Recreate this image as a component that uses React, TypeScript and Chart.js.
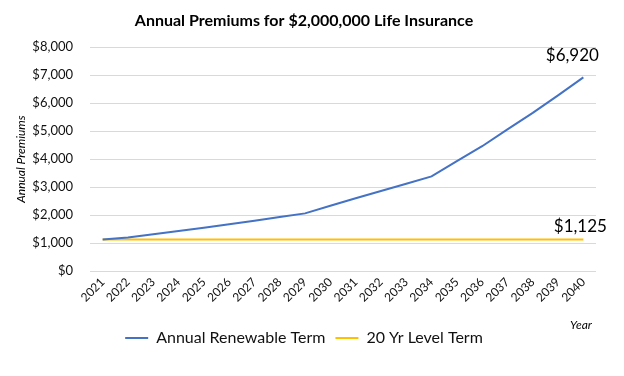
import React, { useEffect, useRef } from "react";
import { Chart, registerables } from "chart.js";

Chart.register(...registerables);

const years = [
  "2021", "2022", "2023", "2024", "2025", "2026", "2027", "2028", "2029", "2030",
  "2031", "2032", "2033", "2034", "2035", "2036", "2037", "2038", "2039", "2040",
];
const annualRenewable = [
  1125, 1200, 1310, 1430, 1550, 1670, 1800, 1930, 2060, 2330,
  2600, 2860, 3120, 3380, 3930, 4460, 5060, 5650, 6280, 6920,
];
const levelTerm = [
  1125, 1125, 1125, 1125, 1125, 1125, 1125, 1125, 1125, 1125,
  1125, 1125, 1125, 1125, 1125, 1125, 1125, 1125, 1125, 1125,
];
const seriesNames = ["Annual Renewable Term", "20 Yr Level Term"];
const endLabels = ["$6,920", "$1,125"];

const FONT = "Lato, 'Open Sans', sans-serif";

const extrasPlugin = {
  id: "extras",
  afterDatasetsDraw(chart: any) {
    const ctx = chart.ctx;
    ctx.save();
    ctx.font = `17px ${FONT}`;
    ctx.fillStyle = "#000";
    ctx.textBaseline = "middle";
    ctx.textAlign = "center";
    const offsets = [
      { dx: -11, dy: -22 },
      { dx: -3, dy: -13 },
    ];
    chart.data.datasets.forEach((ds: any, i: number) => {
      const meta = chart.getDatasetMeta(i);
      const last = meta.data[meta.data.length - 1];
      if (!last) return;
      ctx.fillText(endLabels[i], last.x + offsets[i].dx, last.y + offsets[i].dy);
    });
    const xs = chart.scales.x;
    ctx.font = `italic 12px ${FONT}`;
    ctx.textAlign = "center";
    ctx.fillText("Year", xs.right - 15, 325);
    ctx.restore();
  },
};

export default function App() {
  const canvasRef = useRef<HTMLCanvasElement | null>(null);

  useEffect(() => {
    if (!canvasRef.current) return;
    const chart = new Chart(canvasRef.current, {
      type: "line",
      data: {
        labels: years,
        datasets: [
          {
            label: seriesNames[0],
            data: annualRenewable,
            borderColor: "#4472C4",
            backgroundColor: "#4472C4",
            borderWidth: 2,
            pointRadius: 0,
            tension: 0,
          },
          {
            label: seriesNames[1],
            data: levelTerm,
            borderColor: "#FFC000",
            backgroundColor: "#FFC000",
            borderWidth: 2,
            pointRadius: 0,
            tension: 0,
          },
        ],
      },
      options: {
        animation: false,
        responsive: false,
        maintainAspectRatio: false,
        layout: { padding: { left: 12, right: 28, top: 0, bottom: 20 } },
        plugins: {
          title: {
            display: true,
            text: "Annual Premiums for $2,000,000 Life Insurance",
            color: "#000",
            font: { family: FONT, size: 16, weight: "bold" },
            padding: { top: 11, bottom: 17 },
          },
          legend: {
            position: "bottom",
            labels: {
              usePointStyle: true,
              pointStyle: "line",
              pointStyleWidth: 23,
              color: "#111",
              font: { family: FONT, size: 16 },
              padding: 10,
            },
          },
          tooltip: { enabled: false },
        },
        scales: {
          x: {
            offset: true,
            grid: { display: false, drawTicks: false },
            border: { display: false },
            ticks: {
              color: "#111",
              font: { family: FONT, size: 12 },
              maxRotation: 45,
              minRotation: 45,
              padding: 4,
              autoSkip: false,
            },
            afterFit(scale: any) {
              scale.height = 49;
            },
          },
          y: {
            min: 0,
            max: 8000,
            grid: { color: "#d9d9d9", lineWidth: 1, drawTicks: false },
            border: { display: false },
            ticks: {
              stepSize: 1000,
              color: "#111",
              font: { family: FONT, size: 13 },
              padding: 17,
              callback: (v: any) => "$" + Number(v).toLocaleString("en-US"),
            },
            title: {
              display: true,
              text: "Annual Premiums",
              color: "#000",
              font: { family: FONT, size: 12, style: "italic" },
              padding: { top: 2, bottom: 0 },
            },
            afterFit(scale: any) {
              scale.width = 78;
            },
          },
        },
      },
      plugins: [extrasPlugin],
    });
    return () => chart.destroy();
  }, []);

  return (
    <div style={{ position: "absolute", left: 0, top: 0, width: 624, height: 376, background: "#fff" }}>
      <canvas ref={canvasRef} width={624} height={376} style={{ width: 624, height: 376 }} />
    </div>
  );
}
